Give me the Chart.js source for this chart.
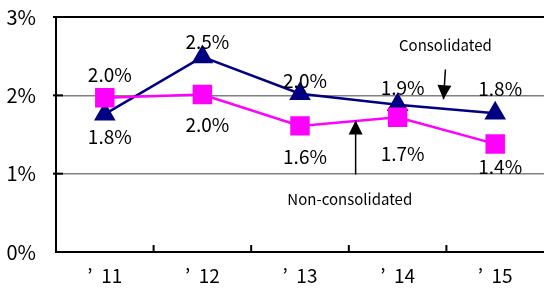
<!DOCTYPE html>
<html lang="en">
<head>
<meta charset="UTF-8">
<title>Consolidated vs Non-consolidated</title>
<script src="https://cdn.jsdelivr.net/npm/chart.js"></script>
<style>
  body { margin: 0; background: #fff; }
  #wrap { width: 544px; height: 295px; }
</style>
</head>
<body>
<div id="wrap"><canvas id="chart"></canvas></div>
<script>
const years = ['’  11', '’  12', '’  13', '’  14', '’  15'];
const consolidated = [1.76, 2.49, 2.02, 1.88, 1.77];
const nonConsolidated = [1.97, 2.01, 1.61, 1.72, 1.38];
// vertical pixel shift of each value label from its point
const consolidatedLabelShift = [23, -15, -13, -17, -25];
const nonConsolidatedLabelShift = [-23, 30, 31, 37, 23];

const FONT = '"Noto Sans CJK JP", "DejaVu Sans", sans-serif';

const labelsPlugin = {
  id: 'labels',
  afterDatasetsDraw(chart) {
    const ctx = chart.ctx;
    const x = chart.scales.x, y = chart.scales.y;
    ctx.save();
    ctx.fillStyle = '#000';
    ctx.font = '19px ' + FONT;
    ctx.textAlign = 'center';
    ctx.textBaseline = 'middle';
    const sets = [[consolidated, consolidatedLabelShift], [nonConsolidated, nonConsolidatedLabelShift]];
    sets.forEach(([vals, shift]) => {
      vals.forEach((v, i) => {
        const px = x.getPixelForValue(i) + 5;
        const py = y.getPixelForValue(v) + shift[i];
        ctx.fillText(v.toFixed(1) + '%', px, py);
      });
    });

    // inner tick marks
    ctx.strokeStyle = '#000';
    ctx.lineWidth = 2;
    const area = chart.chartArea;
    for (let i = 0; i < years.length - 1; i++) {
      const bx = (x.getPixelForValue(i) + x.getPixelForValue(i + 1)) / 2;
      ctx.beginPath();
      ctx.moveTo(bx, area.bottom);
      ctx.lineTo(bx, area.bottom - 7);
      ctx.stroke();
    }
    [1, 2, 3].forEach(t => {
      const ty = y.getPixelForValue(t);
      ctx.beginPath();
      ctx.moveTo(area.left - 3, ty);
      ctx.lineTo(area.left + 7, ty);
      ctx.stroke();
    });

    // annotations
    ctx.font = '15px ' + FONT;
    ctx.fillText('Consolidated', x.getPixelForValue(3.49), y.getPixelForValue(2.64));
    ctx.fillText('Non-consolidated', x.getPixelForValue(2.51), y.getPixelForValue(0.67));

    function arrow(x1, y1, x2, y2) {
      ctx.beginPath();
      ctx.moveTo(x1, y1);
      ctx.lineTo(x2, y2);
      ctx.lineWidth = 1.5;
      ctx.stroke();
      const a = Math.atan2(y2 - y1, x2 - x1);
      ctx.beginPath();
      ctx.moveTo(x2, y2);
      ctx.lineTo(x2 - 14 * Math.cos(a) + 7 * Math.sin(a), y2 - 14 * Math.sin(a) - 7 * Math.cos(a));
      ctx.lineTo(x2 - 14 * Math.cos(a) - 7 * Math.sin(a), y2 - 14 * Math.sin(a) + 7 * Math.cos(a));
      ctx.closePath();
      ctx.fill();
    }
    arrow(x.getPixelForValue(3.49), y.getPixelForValue(2.33), x.getPixelForValue(3.47), y.getPixelForValue(1.95));
    arrow(x.getPixelForValue(2.57), y.getPixelForValue(0.99), x.getPixelForValue(2.57), y.getPixelForValue(1.68));
    ctx.restore();
  }
};

new Chart(document.getElementById('chart'), {
  type: 'line',
  data: {
    labels: years,
    datasets: [
      {
        label: 'Non-consolidated',
        data: nonConsolidated,
        borderColor: '#ff00ff',
        backgroundColor: '#ff00ff',
        borderWidth: 2.5,
        pointStyle: 'rect',
        pointRadius: 12,
        pointHoverRadius: 12,
        tension: 0
      },
      {
        label: 'Consolidated',
        data: consolidated,
        borderColor: '#000080',
        backgroundColor: '#000080',
        borderWidth: 2.5,
        pointStyle: 'triangle',
        pointRadius: 10,
        pointHoverRadius: 10,
        tension: 0
      }
    ]
  },
  options: {
    responsive: true,
    maintainAspectRatio: false,
    animation: false,
    layout: { autoPadding: false, padding: { left: 0, right: 0, top: 17, bottom: 0 } },
    plugins: {
      legend: { display: false },
      tooltip: { enabled: false }
    },
    scales: {
      x: {
        offset: true,
        grid: { display: false },
        border: { color: '#000', width: 2 },
        ticks: { color: '#000', font: { family: FONT, size: 19 }, padding: 4 },
        afterFit(s) { s.height = 43; s.paddingLeft = 0; s.paddingRight = 0; }
      },
      y: {
        min: 0,
        max: 3,
        ticks: {
          stepSize: 1,
          color: '#000',
          font: { family: FONT, size: 20 },
          padding: 20,
          callback: v => v + '%'
        },
        grid: {
          color: ctx => ctx.tick.value === 3 ? '#000' : '#808080',
          lineWidth: ctx => ctx.tick.value === 3 ? 2 : 1.5,
          drawTicks: false
        },
        border: { color: '#000', width: 2 },
        afterFit(s) { s.width = 56; s.paddingTop = 0; s.paddingBottom = 0; }
      }
    }
  },
  plugins: [labelsPlugin]
});
</script>
</body>
</html>
